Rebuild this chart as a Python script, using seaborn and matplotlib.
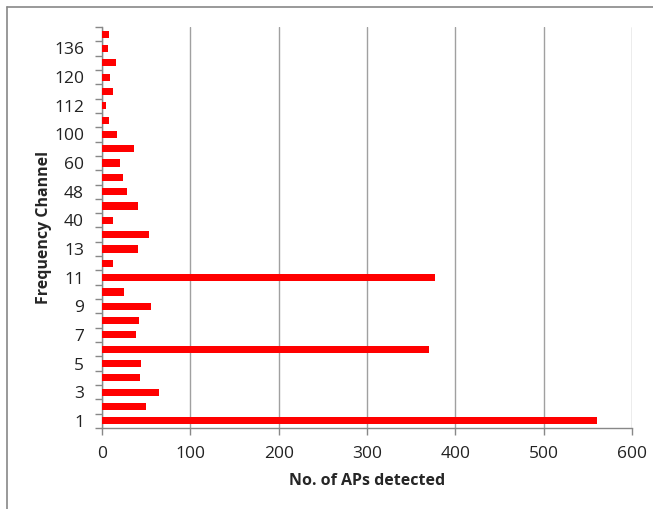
import matplotlib
matplotlib.use("Agg")
import matplotlib.pyplot as plt
from matplotlib.lines import Line2D
from matplotlib.ticker import FixedLocator, NullFormatter
import seaborn as sns
import pandas as pd

channels = ["1", "2", "3", "4", "5", "6", "7", "8", "9", "10", "11", "12", "13",
            "36", "40", "44", "48", "52", "60", "64", "100", "108", "112", "116",
            "120", "132", "136", "140"]
ap_counts = [560, 50, 64, 43, 44, 370, 38, 42, 55, 25, 377, 13, 41,
             53, 13, 41, 28, 24, 20, 36, 17, 7.5, 4.5, 13, 9, 16, 6.5, 8]
shown_labels = ["1", "3", "5", "7", "9", "11", "13", "40", "48", "60", "100",
                "112", "120", "136"]
x_ticks = [0, 100, 200, 300, 400, 500, 600]

df = pd.DataFrame({"channel": channels, "count": ap_counts})

sns.set_style("white")
plt.rcParams["font.family"] = ["Open Sans", "DejaVu Sans"]

fig = plt.figure(figsize=(6.53, 5.09), dpi=100)
ax = fig.add_axes([102 / 653, 1 - 428 / 509, (632 - 102) / 653, (428 - 27) / 509])

order = channels[::-1]
sns.barplot(data=df, y="channel", x="count", order=order, orient="h",
            color="#ff0000", saturation=1, width=0.5, ax=ax, zorder=3)
for p in ax.patches:
    p.set_edgecolor("none")

n = len(channels)
ax.set_ylim(n - 0.5, -0.5)
ax.set_xlim(0, 600)

# y ticks: labels every other category, tick marks at boundaries
pos = {c: order.index(c) for c in channels}
ax.set_yticks([pos[c] for c in shown_labels])
ax.set_yticklabels(shown_labels, fontsize=12.5, color="#222222")
ax.tick_params(axis="y", which="major", length=0, pad=13)
ax.yaxis.set_minor_locator(FixedLocator([i + 0.5 for i in range(-1, n)]))
ax.yaxis.set_minor_formatter(NullFormatter())
ax.tick_params(axis="y", which="minor", length=5, width=1, color="#888888", left=True)

ax.set_xticks(x_ticks)
ax.set_xticklabels([str(v) for v in x_ticks], fontsize=12.5, color="#222222")
ax.tick_params(axis="x", which="major", length=5, width=1, color="#888888",
               bottom=True, pad=8)

ax.grid(axis="x", color="#a0a0a0", linewidth=1, zorder=0)
ax.grid(axis="y", visible=False)
for s in ["top", "right"]:
    ax.spines[s].set_visible(False)
for s in ["left", "bottom"]:
    ax.spines[s].set_color("#888888")
    ax.spines[s].set_linewidth(1)

ax.set_xlabel("No. of APs detected", fontsize=11.5, fontweight="bold", labelpad=8)
ax.set_ylabel("Frequency Channel", fontsize=11.5, fontweight="bold", labelpad=1.5)

# outer chart frame (top and left edges visible)
fig.add_artist(Line2D([7 / 653, 1], [1 - 7 / 509, 1 - 7 / 509],
                      transform=fig.transFigure, color="#888888", linewidth=1.2))
fig.add_artist(Line2D([7 / 653, 7 / 653], [0, 1 - 7 / 509],
                      transform=fig.transFigure, color="#888888", linewidth=1.2))

fig.savefig("out.png", dpi=100)
